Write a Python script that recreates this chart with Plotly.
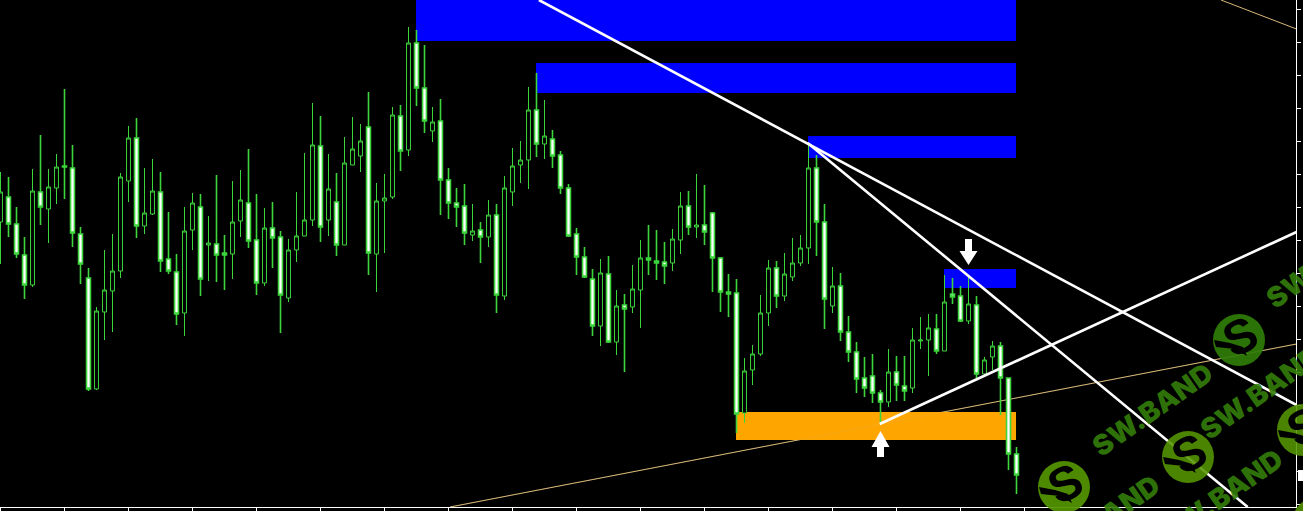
import plotly.graph_objects as go

# Candles, oldest to newest (price units)
opens = [289,314,287,256,226,319,302,323,345,343,277,233,122,199,220,240,330,373,285,297,319,252,239,198,281,304,266,267,
         258,257,290,308,271,228,283,274,213,261,275,291,365,291,309,266,346,355,384,257,310,314,395,361,468,423,380,390,
         331,308,305,276,281,274,296,215,319,346,351,401,367,372,356,323,277,254,232,185,237,169,206,204,221,253,250,249,
         248,271,305,284,286,298,253,219,218,98,141,157,198,243,215,234,248,263,343,289,205,225,179,159,133,135,118,109,
         139,125,123,170,171,182,160,217,215,190,206,137,154,165,133,57]
closes = [319,287,257,226,320,304,324,344,344,278,247,122,200,221,240,334,373,285,298,320,250,240,197,280,308,232,268,256,
          256,289,311,270,228,283,273,216,261,275,291,366,284,322,266,348,362,370,258,310,313,396,360,468,423,390,389,331,
          308,304,278,280,274,296,216,323,345,351,401,367,375,355,323,275,254,234,185,238,169,205,202,222,253,251,248,245,
          272,305,284,286,279,253,219,217,97,140,157,198,243,215,237,248,263,343,289,212,225,179,159,132,123,118,109,139,
          126,120,171,171,183,160,209,214,190,207,137,151,165,133,57,36]
highs = [339,334,304,274,342,376,342,357,422,366,284,243,204,261,277,338,385,393,343,352,339,299,257,304,318,317,295,336,
         276,330,341,362,317,303,309,280,272,319,358,408,395,357,338,374,394,387,419,328,337,404,406,484,481,466,404,412,
         343,323,327,307,289,311,307,335,363,370,424,438,411,381,360,327,283,264,242,252,255,221,217,246,271,286,281,269,
         282,319,320,337,326,299,254,237,232,153,166,216,251,250,258,273,276,368,356,307,244,238,195,169,154,157,121,162,
         155,155,183,194,197,197,236,233,225,234,215,154,170,169,133,64]
lows = [247,274,253,212,224,286,268,307,312,264,227,120,121,171,179,233,309,273,277,296,239,237,186,175,261,215,230,229,
        221,232,274,263,216,225,243,178,209,249,275,285,269,275,255,266,346,339,236,219,258,312,340,355,405,378,369,296,
        292,284,266,270,248,264,198,211,305,328,322,354,352,343,317,274,236,233,175,165,168,156,139,198,183,236,231,227,
        240,257,276,273,266,219,199,194,78,88,126,155,185,203,210,230,245,247,255,182,198,170,149,118,114,108,88,104,
        110,110,118,162,135,157,160,207,189,187,133,135,141,96,41,17]

# Supply / demand zones: first candle, last candle, upper and lower price
zone_start = [52, 67, 101, 118, 92]
zone_end = [127, 127, 127, 127, 127]
zone_top = [511, 448, 375, 242, 99]
zone_bottom = [470, 418, 353, 223, 71]
zone_color = ["#0000FF", "#0000FF", "#0000FF", "#0000FF", "#FFA500"]

# Trend lines (candle index, price)
white_x = [[67.3, 162], [100.9, 155.9], [109.9, 162]]
white_y = [[511, 106], [368, 4], [87, 279]]
tan_x = [[56.2, 162], [152.56, 162]]
tan_y = [[4, 167], [511, 482]]

# Signal arrows (candle index, tip price)
up_arrow = (110, 80)
down_arrow = (121, 246)

x_ticks = list(range(0, 129, 8))
candle_x = list(range(len(opens)))

GREEN = "#3CD63C"
W, H = 1303, 511


def px(x):
    return x / W


def py(y):
    return 1 - y / H


fig = go.Figure()
fig.add_trace(go.Candlestick(
    x=candle_x, open=opens, high=highs, low=lows, close=closes,
    whiskerwidth=0,
    increasing=dict(line=dict(color=GREEN, width=1), fillcolor="#000000"),
    decreasing=dict(line=dict(color=GREEN, width=1.6), fillcolor="#FFFFFF"),
    hoverinfo="skip",
))
for xs, ys in zip(white_x, white_y):
    fig.add_trace(go.Scatter(x=xs, y=ys, mode="lines", line=dict(color="#FFFFFF", width=2.6), hoverinfo="skip"))

shapes = []
for xs, ys in zip(tan_x, tan_y):
    shapes.append(dict(type="line", layer="below", x0=xs[0], x1=xs[1], y0=ys[0], y1=ys[1],
                       line=dict(color="#D8B878", width=1)))
for s, e, t, b, c in zip(zone_start, zone_end, zone_top, zone_bottom, zone_color):
    shapes.append(dict(type="rect", layer="below", x0=s - 0.06, x1=e - 0.06, y0=b, y1=t,
                       fillcolor=c, line=dict(width=0)))
shapes.append(dict(type="line", layer="below", x0=tan_x[0][0], x1=tan_x[0][1], y0=tan_y[0][0], y1=tan_y[0][1],
                   line=dict(color="#D8B878", width=1), opacity=0.2))
shapes.append(dict(type="path", layer="above", xref="x", yref="y", xsizemode="pixel", ysizemode="pixel",
                   xanchor=up_arrow[0], yanchor=up_arrow[1],
                   path="M0,0 L9,-16 L3.5,-16 L3.5,-26 L-3.5,-26 L-3.5,-16 L-9,-16 Z",
                   fillcolor="#FFFFFF", line=dict(width=0)))
shapes.append(dict(type="path", layer="above", xref="x", yref="y", xsizemode="pixel", ysizemode="pixel",
                   xanchor=down_arrow[0], yanchor=down_arrow[1],
                   path="M0,0 L9,14 L3.5,14 L3.5,26 L-3.5,26 L-3.5,14 L-9,14 Z",
                   fillcolor="#FFFFFF", line=dict(width=0)))

# Last-price tag, cut off by the right edge
shapes.append(dict(type="rect", layer="above", xref="paper", yref="paper",
                   x0=px(1298), x1=px(1303), y0=py(481), y1=py(470), fillcolor="#FFFFFF", line=dict(width=0)))

# Watermark
logos = [(1239, 340, "rgba(48,125,8,0.92)"), (1188, 457, "rgba(85,150,0,0.88)"), (1064, 487, "rgba(85,150,0,0.92)"),
         (1303, 430, "rgba(85,150,0,0.88)"), (1318, 523, "rgba(85,150,0,0.88)")]
tail = [(-25, 0), (-9, 3), (4, 7), (8, 16), (-4, 9), (-23, 7)]
annotations = []
for cx, cy, col in logos:
    r = 26
    shapes.append(dict(type="circle", layer="above", xref="paper", yref="paper",
                       x0=px(cx - r), x1=px(cx + r), y0=py(cy + r), y1=py(cy - r),
                       fillcolor=col, line=dict(width=0)))
    d = "M" + " L".join(f"{px(cx + a)},{py(cy + b)}" for a, b in tail) + " Z"
    shapes.append(dict(type="path", layer="above", xref="paper", yref="paper", path=d,
                       fillcolor="#000000", line=dict(width=0)))
    annotations.append(dict(text="<b>S</b>", xref="paper", yref="paper", x=px(cx + 1), y=py(cy - 4),
                            xanchor="center", yanchor="middle", showarrow=False, textangle=-25,
                            font=dict(family="Liberation Sans", size=48, color="#000000")))
marks = [(1152, 410), (1260, 393), (1222, 496), (1099, 522), (1326, 262)]
for mx, my in marks:
    annotations.append(dict(text="SW.BAND", xref="paper", yref="paper", x=px(mx), y=py(my),
                            xanchor="center", yanchor="middle", showarrow=False, textangle=-35,
                            font=dict(family="Inter", size=28, weight=900, color="rgba(52,125,10,0.92)")))

fig.update_layout(
    width=W, height=H, margin=dict(l=0, r=0, t=0, b=0),
    paper_bgcolor="#000000", plot_bgcolor="#000000",
    showlegend=False, boxgap=0.3, dragmode=False,
    shapes=shapes, annotations=annotations,
    xaxis=dict(domain=[0, 1296 / W], range=[-0.0625, 161.9375], rangeslider=dict(visible=False),
               showgrid=False, zeroline=False, showline=True, linecolor="#FFFFFF", linewidth=1,
               ticks="outside", ticklen=4, tickwidth=1, tickcolor="#FFFFFF",
               tickmode="array", tickvals=x_ticks, showticklabels=False),
    yaxis=dict(domain=[4 / H, 1], range=[4, 511], side="right",
               showgrid=False, zeroline=False, showline=True, linecolor="#FFFFFF", linewidth=1,
               ticks="outside", ticklen=4, tickwidth=1, tickcolor="#FFFFFF",
               tickmode="linear", tick0=7, dtick=33, showticklabels=False),
)

fig.write_html("out.html", config=dict(displayModeBar=False),
               post_script="document.body.style.margin='0';document.body.style.overflow='hidden';")
